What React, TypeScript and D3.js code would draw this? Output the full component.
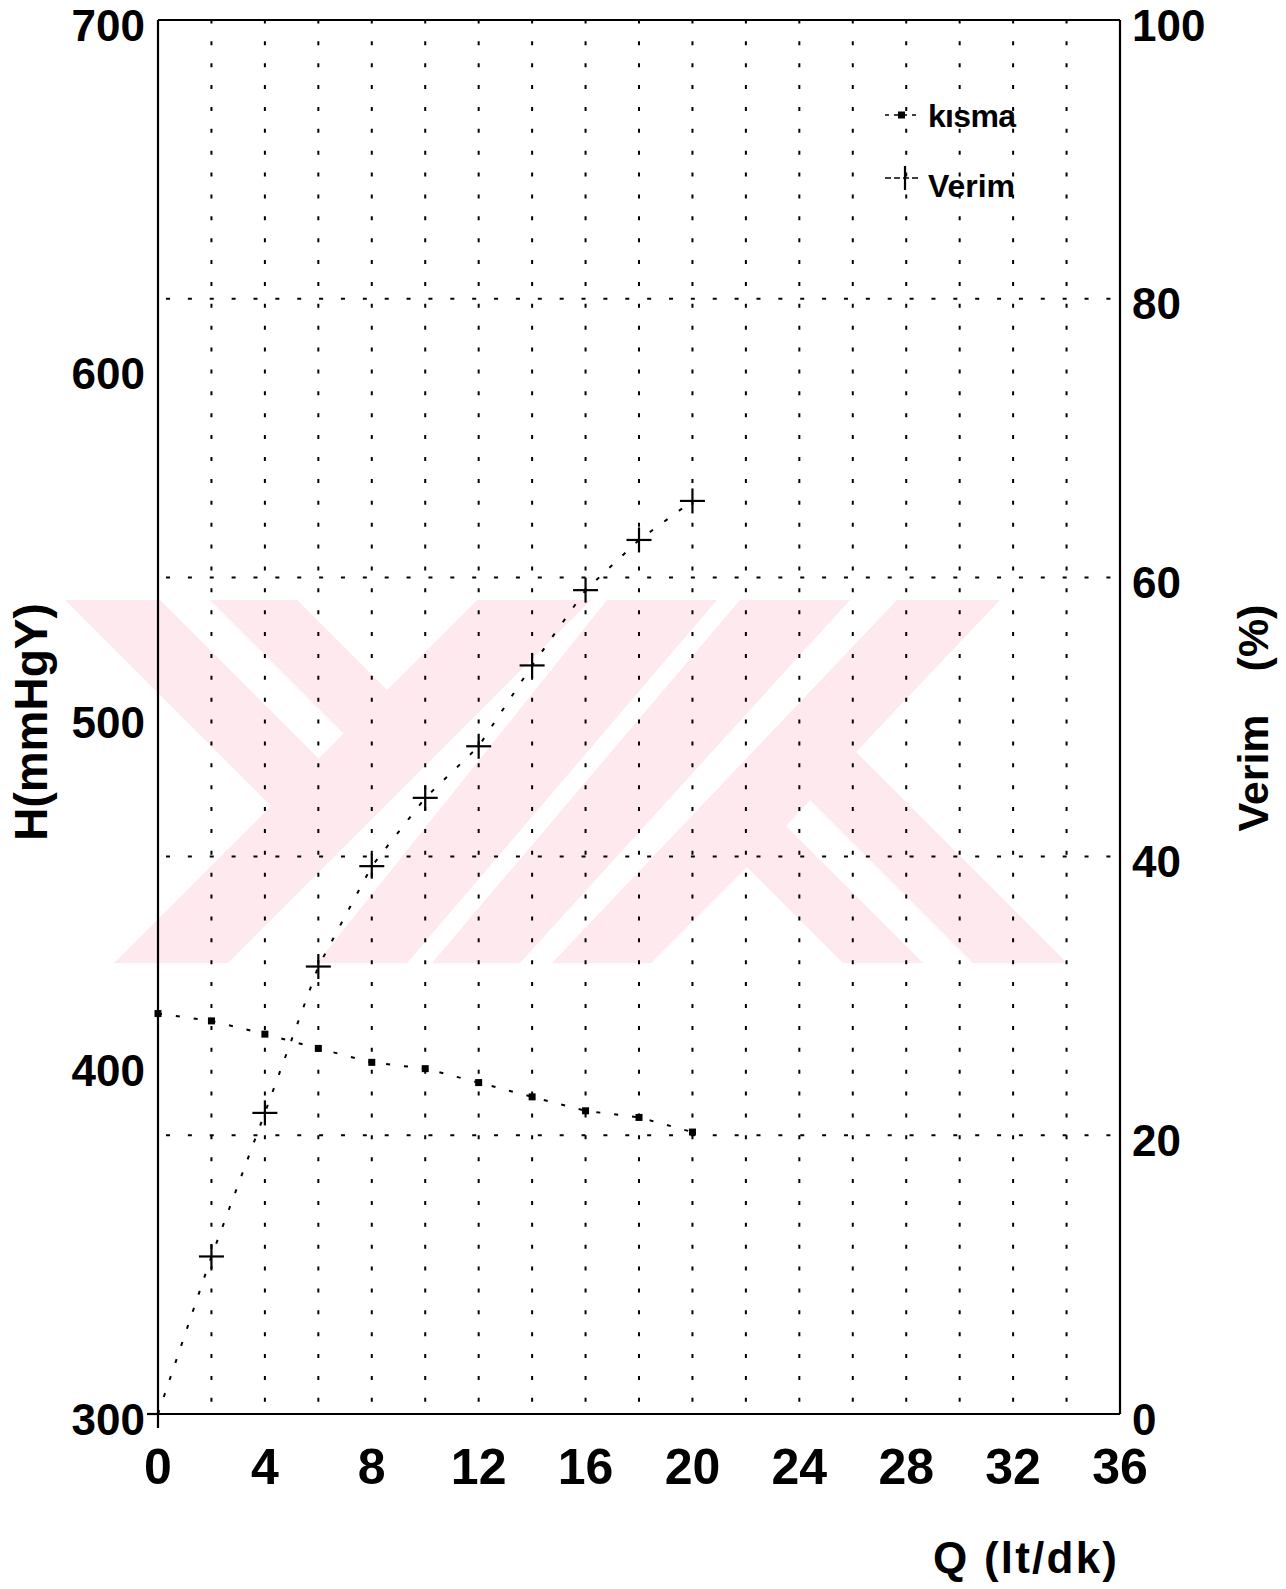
import React from 'react';
import * as d3 from 'd3';

// ---- data ----
const Q = [0, 2, 4, 6, 8, 10, 12, 14, 16, 18, 20];
const kisma = [414.9, 412.8, 409.0, 404.9, 400.9, 399.1, 395.1, 391.0, 387.0, 385.1, 380.9];
const verim = [0, 11.3, 21.6, 32.1, 39.3, 44.2, 47.9, 53.7, 59.1, 62.7, 65.5];
const xTicks = [0, 4, 8, 12, 16, 20, 24, 28, 32, 36];
const xGrid = [2, 4, 6, 8, 10, 12, 14, 16, 18, 20, 22, 24, 26, 28, 30, 32, 34];
const yLeftTicks = [300, 400, 500, 600, 700];
const yRightTicks = [0, 20, 40, 60, 80, 100];
const yRightGrid = [20, 40, 60, 80];
const legendLabels = ['kısma', 'Verim'];

// background watermark (decoration, page coordinates)
const watermark: [number, number][][] = [
  [[65, 600], [160, 600], [318.5, 758.5], [271, 806]],
  [[210, 600], [297, 600], [387, 690], [343.5, 733.5]],
  [[477, 600], [591, 600], [228, 963], [114, 963]],
  [[607, 600], [717, 600], [407, 963], [317, 963]],
  [[740, 600], [850, 600], [520, 963], [432, 963]],
  [[897, 600], [1000, 600], [747, 867], [651, 963], [552, 963]],
  [[743.5, 863.5], [783.5, 823.5], [923, 963], [843, 963]],
  [[808.5, 798.5], [855.5, 751.5], [1067, 963], [973, 963]],
];

const FONT = '"Liberation Sans", Arial, Helvetica, sans-serif';

export default function App() {
  const W = 1286, H = 1589;
  const left = 158, right = 1120, top = 20, bottom = 1414;
  const x = d3.scaleLinear().domain([0, 36]).range([left, right]);
  const yL = d3.scaleLinear().domain([300, 700]).range([bottom, top]);
  const yR = d3.scaleLinear().domain([0, 100]).range([bottom, top]);

  const kLine = d3.line<number>().x((_, i) => x(Q[i])).y(d => yL(d))(kisma) || '';
  const vLine = d3.line<number>().x((_, i) => x(Q[i])).y(d => yR(d))(verim) || '';

  const plus = (cx: number, cy: number, key: string) => (
    <g key={key} stroke="#000" strokeWidth={2.2}>
      <line x1={cx - 12.5} x2={cx + 12.5} y1={cy} y2={cy} />
      <line x1={cx} x2={cx} y1={cy - 12.5} y2={cy + 12.5} />
    </g>
  );

  return (
    <svg width={W} height={H} style={{ position: 'absolute', left: 0, top: 0, background: '#fff' }}
      fontFamily={FONT}>
      <rect x={0} y={0} width={W} height={H} fill="#fff" />
      {/* watermark */}
      {watermark.map((p, i) => (
        <polygon key={'wm' + i} points={p.map(d => d.join(',')).join(' ')} fill="#fde9ee" />
      ))}

      {/* vertical dotted grid */}
      {xGrid.map(v => (
        <line key={'vg' + v} x1={x(v)} x2={x(v)} y1={top} y2={bottom}
          stroke="#000" strokeWidth={2} strokeDasharray="4 17.88" strokeDashoffset={0.6} />
      ))}
      {/* horizontal dotted grid */}
      {yRightGrid.map(v => (
        <line key={'hg' + v} x1={left} x2={right} y1={yR(v)} y2={yR(v)}
          stroke="#000" strokeWidth={2} strokeDasharray="4 17.87" strokeDashoffset={-8} />
      ))}

      {/* frame */}
      <g stroke="#000" strokeWidth={2.2} fill="none">
        <line x1={left} x2={right} y1={top} y2={top} />
        <line x1={left} x2={right} y1={bottom} y2={bottom} />
        <line x1={left} x2={left} y1={top} y2={bottom + 14} />
        <line x1={right} x2={right} y1={top} y2={bottom} />
        <line x1={left - 11} x2={left} y1={bottom} y2={bottom} />
      </g>

      {/* series lines */}
      <path d={kLine} fill="none" stroke="#000" strokeWidth={2} strokeDasharray="4 14" />
      <path d={vLine} fill="none" stroke="#000" strokeWidth={2} strokeDasharray="4 14" />

      {/* kisma markers */}
      {kisma.map((v, i) => (
        <rect key={'km' + i} x={x(Q[i]) - 3.5} y={yL(v) - 3.5} width={7} height={7} fill="#000" />
      ))}
      {/* verim markers */}
      {verim.map((v, i) => (Q[i] > 0 ? plus(x(Q[i]), yR(v), 'vm' + i) : null))}

      {/* left ticks */}
      {yLeftTicks.map(v => (
        <text key={'yl' + v} x={145} y={yL(v) + 20.5} textAnchor="end" fontSize={44} fontWeight="bold">{v}</text>
      ))}
      {/* right ticks */}
      {yRightTicks.map(v => (
        <text key={'yr' + v} x={1132} y={yR(v) + 20.5} textAnchor="start" fontSize={44} fontWeight="bold">{v}</text>
      ))}
      {/* x ticks */}
      {xTicks.map(v => (
        <text key={'xt' + v} x={x(v)} y={1484} textAnchor="middle" fontSize={50} fontWeight="bold">{v}</text>
      ))}

      {/* axis titles */}
      <text transform="translate(47,722) rotate(-90)" textAnchor="middle" fontSize={46} fontWeight="bold">H(mmHgY)</text>
      <text transform="translate(1268,773) rotate(-90)" textAnchor="middle" fontSize={43} fontWeight="bold">Verim</text>
      <text transform="translate(1268,638) rotate(-90)" textAnchor="middle" fontSize={43} fontWeight="bold">(%)</text>
      <text x={933} y={1573} fontSize={44} fontWeight="bold" textLength={184}>Q  (lt/dk)</text>

      {/* legend */}
      <g>
        <line x1={885} x2={918} y1={115} y2={115} stroke="#000" strokeWidth={1.6} strokeDasharray="4 5" />
        <rect x={898} y={111.5} width={7} height={7} fill="#000" />
        <text x={928} y={127} fontSize={32} fontWeight="bold" textLength={88}>{legendLabels[0]}</text>
        <line x1={885} x2={918} y1={178} y2={178} stroke="#000" strokeWidth={1.6} strokeDasharray="6 3" />
        <line x1={905} x2={905} y1={166} y2={190} stroke="#000" strokeWidth={2.2} />
        <text x={928} y={197} fontSize={32} fontWeight="bold" textLength={87}>{legendLabels[1]}</text>
      </g>
    </svg>
  );
}
